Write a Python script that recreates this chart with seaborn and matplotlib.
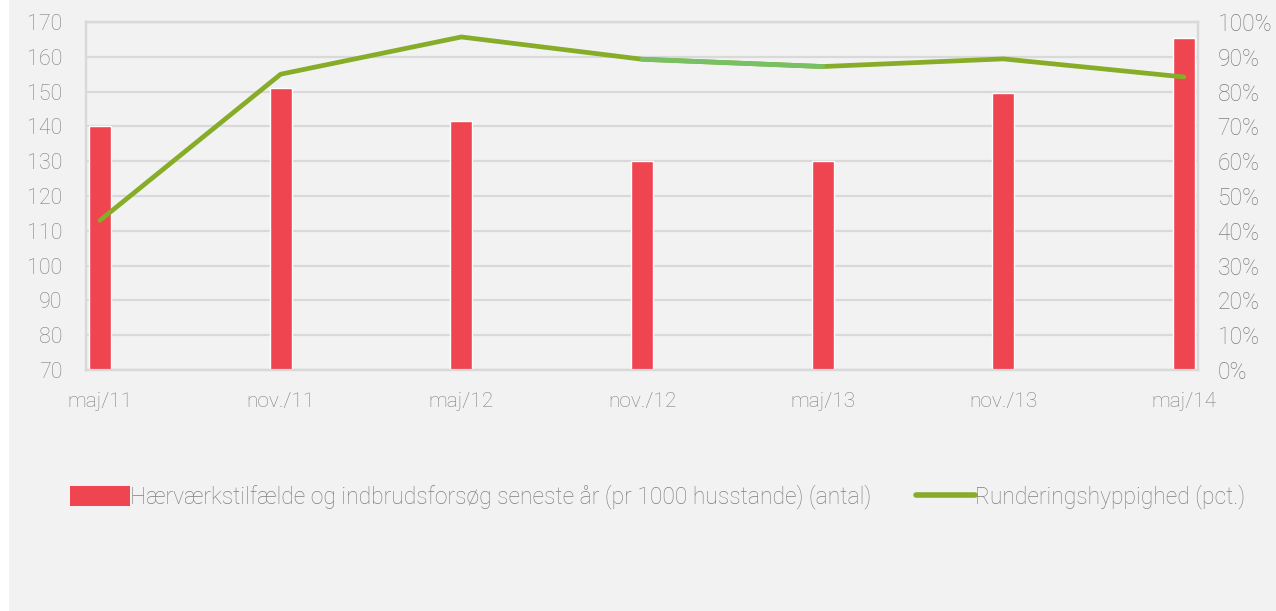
import matplotlib
matplotlib.use('Agg')
import matplotlib.pyplot as plt
import seaborn as sns
import pandas as pd
from matplotlib.patches import Rectangle, Patch
from matplotlib.lines import Line2D
from matplotlib.ticker import FuncFormatter

# data
periods = ['maj/11', 'nov./11', 'maj/12', 'nov./12', 'maj/13', 'nov./13', 'maj/14']
incidents = [140, 151, 141.5, 130, 130, 149.5, 165.5]   # per 1000 households
patrol_pct = [43, 85, 95.7, 89.3, 87.2, 89.4, 84.2]      # percent

bar_label = 'Hærværkstilfælde og indbrudsforsøg seneste år (pr 1000 husstande) (antal)'
line_label = 'Runderingshyppighed (pct.)'

bar_color = '#ef4550'
line_color = '#86ac28'
light_green = '#78c064'
grid_color = '#d9d9d9'
text_color = '#7f7f7f'
bg = '#f2f2f2'

sns.set_theme(style='white')
plt.rcParams['font.family'] = ['Roboto', 'DejaVu Sans']
plt.rcParams['font.weight'] = 'light'

df = pd.DataFrame({'period': periods, 'incidents': incidents,
                   'pct': patrol_pct, 'pos': range(len(periods))})

fig = plt.figure(figsize=(12.76, 6.11), dpi=100, facecolor='white')
fig.patches.append(Rectangle((9 / 1276, 0), 1, 1, transform=fig.transFigure,
                             facecolor=bg, edgecolor='none', zorder=-10))

ax = fig.add_axes([86 / 1276, 1 - 370 / 611, (1198 - 86) / 1276, (370 - 22) / 611])
ax.set_facecolor(bg)

sns.barplot(data=df, x='period', y='incidents', color=bar_color, width=0.12,
            saturation=1, ax=ax, zorder=3)
ax.set_ylim(70, 170)
ax.set_yticks(range(70, 171, 10))
ax.set_xlim(-0.0775, len(periods) - 1 + 0.0775)
ax.yaxis.grid(True, color=grid_color, linewidth=1.6, zorder=0)
ax.set_axisbelow(True)
ax.set_xlabel('')
ax.set_ylabel('')

ax2 = ax.twinx()
sns.lineplot(data=df, x='pos', y='pct', color=line_color, linewidth=3.4,
             ax=ax2, zorder=4)
seg = df.iloc[3:5]
sns.lineplot(data=seg, x='pos', y='pct', color=light_green, linewidth=3.4,
             ax=ax2, zorder=5)
ax2.set_ylim(0, 100)
ax2.set_yticks(range(0, 101, 10))
ax2.yaxis.set_major_formatter(FuncFormatter(lambda v, p: f'{int(v)}%'))
ax2.set_xlim(ax.get_xlim())
ax2.set_xlabel('')
ax2.set_ylabel('')
ax2.grid(False)

for a in (ax, ax2):
    for s in a.spines.values():
        s.set_color(grid_color)
        s.set_linewidth(1.6)
    a.tick_params(length=0, labelsize=15.5, labelcolor=text_color)

ax.tick_params(axis='x', pad=16, labelsize=15)
ax.tick_params(axis='y', pad=17)
ax2.tick_params(axis='y', pad=14, labelsize=16.5)

handles = [Patch(facecolor=bar_color, edgecolor='none'),
           Line2D([], [], color=line_color, linewidth=4)]
fig.legend(handles, [bar_label, line_label], loc='center left',
           bbox_to_anchor=(70 / 1276, 1 - 497 / 611), ncol=2, frameon=False,
           fontsize=16.5, labelcolor=text_color, handlelength=2.6,
           handleheight=0.92, handletextpad=0.0, columnspacing=1.95,
           borderpad=0, borderaxespad=0)

fig.savefig('out.png', dpi=100, facecolor=fig.get_facecolor())
